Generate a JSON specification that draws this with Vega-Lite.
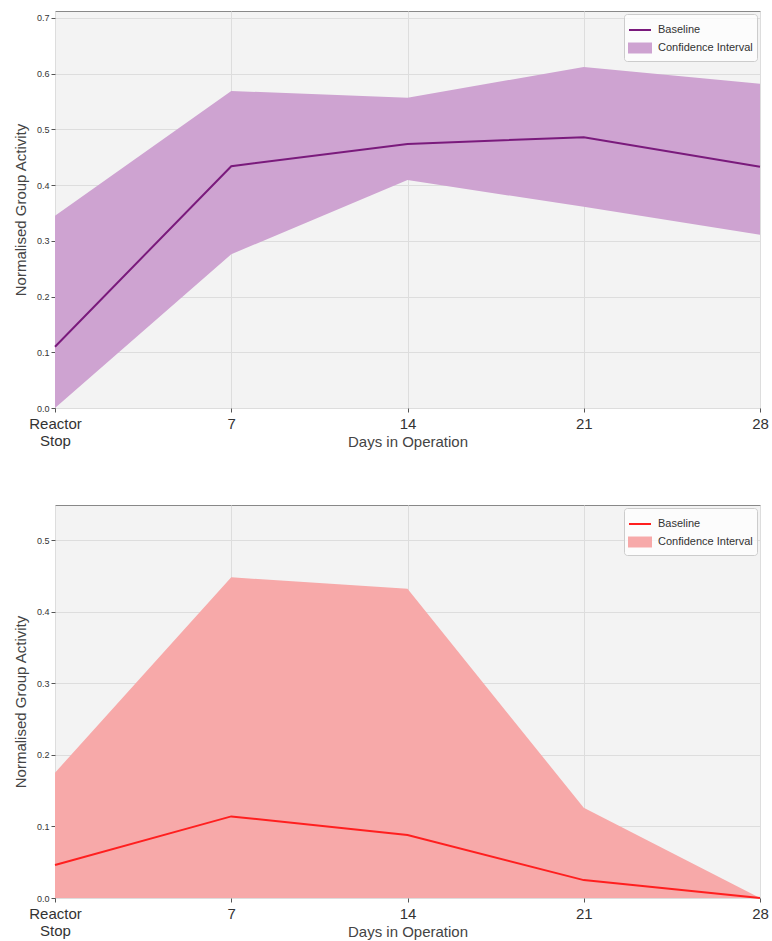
{
  "$schema": "https://vega.github.io/schema/vega-lite/v6.json",
  "background": "white",
  "padding": {"left": 12, "top": 10, "right": 2, "bottom": 2},
  "spacing": 54,
  "config": {
    "font": "Liberation Sans",
    "view": {"fill": "#f3f3f3", "stroke": "#888888", "strokeWidth": 1},
    "axis": {"gridColor": "#dddddd", "gridWidth": 1, "domain": false, "tickColor": "#555555", "tickSize": 4, "labelColor": "#333333", "titleColor": "#444444", "titleFontWeight": "normal"},
    "legend": {"labelColor": "#333333"}
  },
  "datasets": {
    "top": [
      {"day": 0, "baseline": 0.110, "low": 0.000, "high": 0.345},
      {"day": 7, "baseline": 0.434, "low": 0.276, "high": 0.569},
      {"day": 14, "baseline": 0.474, "low": 0.409, "high": 0.557},
      {"day": 21, "baseline": 0.486, "low": 0.361, "high": 0.612},
      {"day": 28, "baseline": 0.433, "low": 0.311, "high": 0.582}
    ],
    "bottom": [
      {"day": 0, "baseline": 0.046, "low": 0.000, "high": 0.175},
      {"day": 7, "baseline": 0.114, "low": 0.000, "high": 0.448},
      {"day": 14, "baseline": 0.088, "low": 0.000, "high": 0.432},
      {"day": 21, "baseline": 0.025, "low": 0.000, "high": 0.126},
      {"day": 28, "baseline": 0.000, "low": 0.000, "high": 0.000}
    ]
  },
  "vconcat": [
    {
      "width": 705,
      "height": 397,
      "data": {"name": "top"},
      "encoding": {
        "x": {"field": "day", "type": "quantitative", "scale": {"domain": [0, 28], "nice": false},
          "axis": {"values": [0, 7, 14, 21, 28], "title": "Days in Operation", "labelFontSize": 15, "titleFontSize": 15, "labelPadding": 4, "titlePadding": -14,
            "labelExpr": "datum.value == 0 ? ['Reactor', 'Stop'] : datum.label", "labelAlign": "center", "labelBaseline": "top", "labelFlush": false}}
      },
      "layer": [
        {
          "mark": {"type": "area", "opacity": 1},
          "encoding": {
            "y": {"field": "high", "type": "quantitative", "scale": {"domain": [0, 0.7125], "nice": false},
              "axis": {"values": [0, 0.1, 0.2, 0.3, 0.4, 0.5, 0.6, 0.7], "format": ".1f", "title": "Normalised Group Activity", "labelFontSize": 9, "titleFontSize": 15, "titlePadding": 8}},
            "y2": {"field": "low"},
            "color": {"datum": "Confidence Interval", "type": "nominal"}
          }
        },
        {
          "mark": {"type": "line", "strokeWidth": 2},
          "encoding": {
            "y": {"field": "baseline", "type": "quantitative"},
            "color": {"datum": "Baseline", "type": "nominal",
              "scale": {"domain": ["Baseline", "Confidence Interval"], "range": ["#7a1a7c", "#cea3d1"]},
              "legend": {"title": null, "orient": "top-right", "offset": 3, "padding": 4, "fillColor": "rgba(255,255,255,0.75)", "strokeColor": "#cccccc", "cornerRadius": 3,
                "labelFontSize": 11, "symbolSize": 484, "rowPadding": 1, "labelOffset": 6,
                "encode": {"symbols": {"update": {
                  "shape": {"signal": "datum.value === 'Baseline' ? 'M-1,0H1' : 'M-1,-0.4H1V0.4H-1Z'"},
                  "fill": {"signal": "datum.value === 'Baseline' ? 'transparent' : '#cea3d1'"},
                  "stroke": {"signal": "datum.value === 'Baseline' ? '#7a1a7c' : 'transparent'"},
                  "strokeWidth": {"value": 2},
                  "opacity": {"value": 1}
                }}}}}
          }
        }
      ]
    },
    {
      "width": 705,
      "height": 393,
      "data": {"name": "bottom"},
      "encoding": {
        "x": {"field": "day", "type": "quantitative", "scale": {"domain": [0, 28], "nice": false},
          "axis": {"values": [0, 7, 14, 21, 28], "title": "Days in Operation", "labelFontSize": 15, "titleFontSize": 15, "labelPadding": 4, "titlePadding": -14,
            "labelExpr": "datum.value == 0 ? ['Reactor', 'Stop'] : datum.label", "labelAlign": "center", "labelBaseline": "top", "labelFlush": false}}
      },
      "layer": [
        {
          "mark": {"type": "area", "opacity": 1},
          "encoding": {
            "y": {"field": "high", "type": "quantitative", "scale": {"domain": [0, 0.549], "nice": false},
              "axis": {"values": [0, 0.1, 0.2, 0.3, 0.4, 0.5], "format": ".1f", "title": "Normalised Group Activity", "labelFontSize": 9, "titleFontSize": 15, "titlePadding": 8}},
            "y2": {"field": "low"},
            "color": {"datum": "Confidence Interval", "type": "nominal"}
          }
        },
        {
          "mark": {"type": "line", "strokeWidth": 2},
          "encoding": {
            "y": {"field": "baseline", "type": "quantitative"},
            "color": {"datum": "Baseline", "type": "nominal",
              "scale": {"domain": ["Baseline", "Confidence Interval"], "range": ["#ff1f1f", "#f7a9a9"]},
              "legend": {"title": null, "orient": "top-right", "offset": 3, "padding": 4, "fillColor": "rgba(255,255,255,0.75)", "strokeColor": "#cccccc", "cornerRadius": 3,
                "labelFontSize": 11, "symbolSize": 484, "rowPadding": 1, "labelOffset": 6,
                "encode": {"symbols": {"update": {
                  "shape": {"signal": "datum.value === 'Baseline' ? 'M-1,0H1' : 'M-1,-0.4H1V0.4H-1Z'"},
                  "fill": {"signal": "datum.value === 'Baseline' ? 'transparent' : '#f7a9a9'"},
                  "stroke": {"signal": "datum.value === 'Baseline' ? '#ff1f1f' : 'transparent'"},
                  "strokeWidth": {"value": 2},
                  "opacity": {"value": 1}
                }}}}}
          }
        }
      ]
    }
  ],
  "resolve": {"scale": {"color": "independent", "x": "independent", "y": "independent"}}
}
